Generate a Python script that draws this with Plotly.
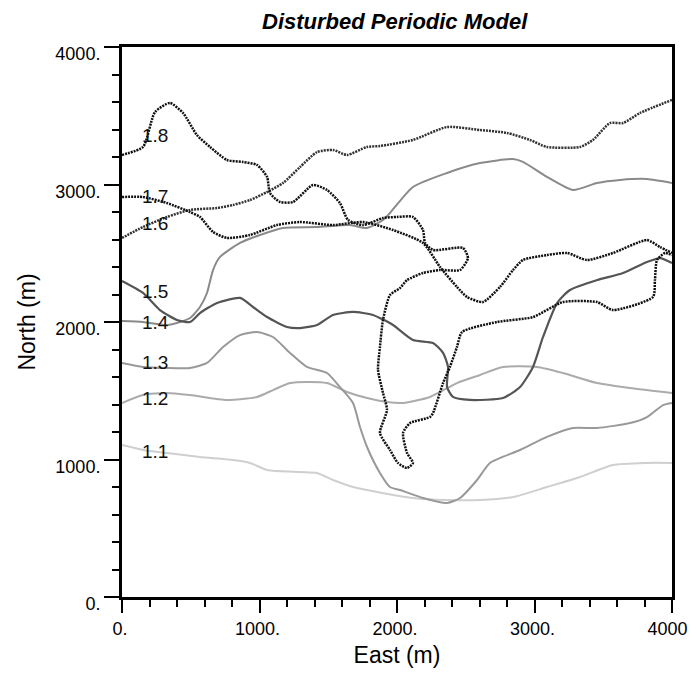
import plotly.graph_objects as go

labels = ["1.1", "1.2", "1.3", "1.4", "1.5", "1.6", "1.7", "1.8"]

x11 = [0, 153, 327, 567, 807, 931, 1055, 1295, 1418, 1535, 1680, 1855, 2116, 2364, 2604, 2844, 3091, 3331, 3571, 3818, 4000]
y11 = [1105, 1069, 1047, 1018, 996, 975, 924, 909, 902, 851, 800, 764, 720, 705, 705, 727, 800, 873, 960, 975, 975]

x12 = [0, 153, 327, 495, 764, 982, 1098, 1222, 1345, 1491, 1636, 1782, 1927, 2044, 2240, 2436, 2604, 2771, 3018, 3207, 3455, 3695, 4000]
y12 = [1411, 1469, 1484, 1469, 1433, 1455, 1505, 1556, 1564, 1556, 1491, 1447, 1418, 1411, 1455, 1556, 1615, 1673, 1673, 1629, 1556, 1520, 1484]

x13 = [0, 153, 327, 495, 618, 735, 858, 982, 1098, 1222, 1345, 1491, 1585, 1680, 1731, 1782, 1876, 1949, 2022, 2189, 2364, 2458, 2582, 2676, 2895, 3091, 3280, 3455, 3695, 3818, 3935, 4000]
y13 = [1702, 1673, 1665, 1665, 1702, 1818, 1905, 1927, 1891, 1775, 1673, 1629, 1527, 1411, 1236, 1091, 902, 800, 778, 720, 684, 720, 851, 975, 1069, 1164, 1229, 1229, 1265, 1309, 1396, 1411]

x14 = [0, 153, 327, 422, 495, 567, 618, 662, 713, 858, 1004, 1171, 1418, 1658, 1782, 1898, 1949, 2116, 2364, 2604, 2844, 2916, 3091, 3280, 3455, 3622, 3818, 4000]
y14 = [2007, 2000, 1978, 2000, 2029, 2109, 2211, 2378, 2473, 2575, 2633, 2684, 2691, 2705, 2684, 2742, 2793, 2982, 3084, 3156, 3185, 3164, 3055, 2960, 3011, 3033, 3040, 3011]

x15 = [0, 153, 276, 400, 495, 567, 691, 858, 953, 1055, 1200, 1295, 1418, 1535, 1680, 1825, 1971, 2116, 2262, 2335, 2371, 2364, 2407, 2531, 2771, 2895, 2989, 3062, 3164, 3258, 3455, 3644, 3818, 3913, 4000]
y15 = [2298, 2211, 2087, 2015, 2000, 2065, 2138, 2175, 2109, 2036, 1964, 1956, 1978, 2051, 2073, 2051, 1978, 1869, 1847, 1775, 1673, 1527, 1455, 1433, 1447, 1527, 1673, 1891, 2138, 2233, 2305, 2356, 2436, 2465, 2429]

x16 = [0, 153, 327, 495, 691, 807, 931, 1055, 1171, 1295, 1418, 1535, 1636, 1782, 1876, 2116, 2364, 2604, 2800, 2967, 3091, 3331, 3425, 3549, 3644, 3767, 4000]
y16 = [2611, 2691, 2764, 2815, 2829, 2851, 2887, 2945, 3011, 3127, 3236, 3251, 3215, 3273, 3280, 3324, 3418, 3396, 3375, 3324, 3273, 3273, 3324, 3447, 3447, 3520, 3615]

x17 = [0, 153, 327, 495, 567, 662, 764, 931, 1127, 1295, 1535, 1753, 1971, 2189, 2313, 2436, 2509, 2625, 2749, 2844, 2916, 3091, 3236, 3382, 3571, 3818, 3913, 4000]
y17 = [2909, 2909, 2865, 2800, 2764, 2655, 2611, 2633, 2705, 2727, 2705, 2727, 2669, 2575, 2400, 2255, 2182, 2145, 2255, 2378, 2451, 2487, 2502, 2451, 2502, 2596, 2545, 2502]

x18 = [0, 153, 240, 349, 444, 545, 640, 764, 880, 982, 1055, 1076, 1149, 1244, 1389, 1491, 1585, 1644, 1753, 1898, 2000, 2116, 2189, 2204, 2262, 2480, 2516, 2458, 2313, 2189, 2073, 2022, 1949, 1898, 1876, 1862, 1898, 1927, 1876, 1949, 2007, 2073, 2116, 2073, 2044, 2095, 2240, 2262, 2335, 2385, 2436, 2473, 2727, 2989, 3207, 3455, 3571, 3862, 3876, 3891, 3949, 4000]
y18 = [3215, 3273, 3527, 3593, 3520, 3360, 3273, 3178, 3164, 3142, 3055, 2938, 2873, 2873, 2996, 2960, 2865, 2742, 2705, 2756, 2764, 2764, 2669, 2575, 2524, 2538, 2465, 2378, 2378, 2356, 2305, 2247, 2196, 2015, 1818, 1651, 1484, 1360, 1193, 1069, 975, 938, 975, 1047, 1193, 1265, 1309, 1338, 1556, 1673, 1818, 1927, 2000, 2036, 2145, 2145, 2087, 2182, 2305, 2451, 2502, 2487]

label_x = [131] * 8
label_y = [1055, 1447, 1702, 1993, 2225, 2720, 2916, 3360]

xs = [x11, x12, x13, x14, x15, x16, x17, x18]
ys = [y11, y12, y13, y14, y15, y16, y17, y18]
colors = ["#cfcfcf", "#ababab", "#999999", "#8a8a8a", "#555555", "#333333", "#111111", "#111111"]
widths = [2, 2, 2, 2, 2.2, 2.5, 2.5, 2.5]
dashes = ["solid", "solid", "solid", "solid", "solid", "2px,1px", "2px,1px", "2px,1px"]

FONT = "Liberation Sans, Arial, sans-serif"

fig = go.Figure()
for i in range(8):
    fig.add_trace(go.Scatter(x=xs[i], y=ys[i], mode="lines", name=labels[i],
                             line=dict(color=colors[i], width=widths[i], dash=dashes[i], shape="spline", smoothing=0.6),
                             showlegend=False, hoverinfo="skip"))

for i in range(8):
    fig.add_annotation(x=label_x[i], y=label_y[i], text=labels[i], showarrow=False,
                       xanchor="left", yanchor="middle",
                       font=dict(family=FONT, size=19, color="#111111"))

tickvals = [0, 1000, 2000, 3000, 4000]
ticktext = ["0.", "1000.", "2000.", "3000.", "4000."]

axis_common = dict(range=[0, 4000], showgrid=False, zeroline=False,
                   showline=True, linewidth=3, linecolor="black", mirror=True,
                   ticks="outside", tickwidth=2, tickcolor="black",
                   tickvals=tickvals, ticktext=ticktext,
                   tickfont=dict(family=FONT, size=18, color="black"),
                   minor=dict(ticks="outside", ticklen=7, tickwidth=2, tickcolor="black", dtick=200, tick0=0))

fig.update_xaxes(**axis_common, ticklen=13, ticklabelshift=-2,
                 title=dict(text="East (m)", standoff=14,
                            font=dict(family=FONT, size=23, color="black")))
fig.update_yaxes(**axis_common, ticklen=15, ticklabelshift=7, ticklabelstandoff=0,
                 title=dict(text="North (m)", standoff=14,
                            font=dict(family=FONT, size=23, color="black")))

fig.update_layout(
    width=688, height=660,
    margin=dict(l=114, r=24, t=39, b=71, autoexpand=False),
    paper_bgcolor="white", plot_bgcolor="white",
    title=dict(text="<b><i>Disturbed Periodic Model</i></b>", x=0.562, xanchor="center", y=1 - 13 / 660, yanchor="middle",
               font=dict(family=FONT, size=22, color="black")),
)

fig.write_html("out.html")
